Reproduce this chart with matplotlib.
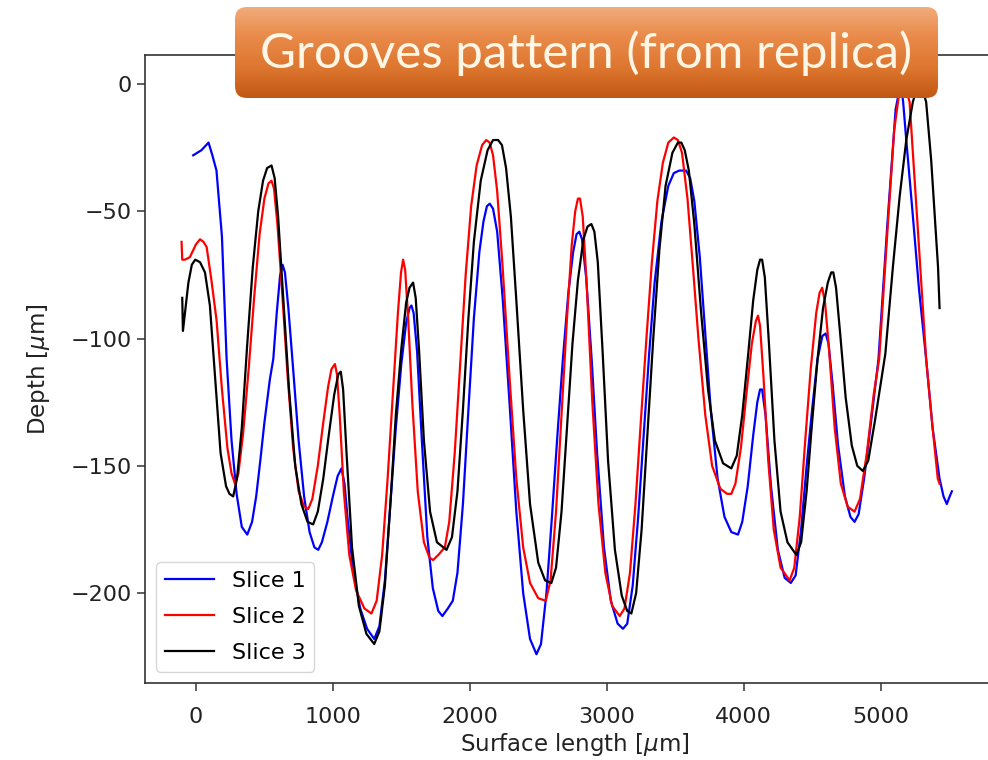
import matplotlib
matplotlib.use("Agg")
import matplotlib.pyplot as plt
from matplotlib.patches import FancyBboxPatch
import numpy as np

# slice profiles (surface length / depth, um)
x1 = [-20, 40, 92, 120, 150, 190, 215, 224, 260, 297, 335, 375, 410, 440, 470, 500,
      540, 565, 590, 615, 633, 650, 675, 710, 750, 790, 830, 865, 893, 920, 960, 1000,
      1035, 1063, 1085, 1110, 1150, 1200, 1250, 1302, 1340, 1380, 1420, 1460, 1500,
      1535, 1560, 1574, 1590, 1615, 1650, 1690, 1730, 1770, 1800, 1840, 1876, 1910,
      1950, 1990, 2030, 2070, 2100, 2125, 2146, 2170, 2200, 2240, 2290, 2340, 2390,
      2440, 2487, 2520, 2560, 2600, 2640, 2680, 2720, 2755, 2780, 2800, 2820, 2850,
      2890, 2930, 2980, 3030, 3080, 3119, 3150, 3190, 3230, 3270, 3310, 3350, 3400,
      3450, 3490, 3530, 3580, 3610, 3640, 3680, 3720, 3760, 3810, 3860, 3910, 3959,
      3990, 4030, 4070, 4100, 4120, 4135, 4160, 4200, 4250, 4300, 4345, 4380, 4420,
      4460, 4500, 4540, 4575, 4599, 4620, 4650, 4690, 4740, 4780, 4810, 4840, 4880,
      4930, 4985, 5050, 5110, 5135, 5150, 5165, 5188, 5230, 5280, 5333, 5380, 5431,
      5460, 5484, 5505, 5521]
y1 = [-28, -26, -23, -28, -34, -60, -95, -108, -140, -161, -174, -177, -172, -162, -148, -133,
      -116, -108, -90, -75, -71, -74, -88, -112, -140, -162, -176, -182, -183, -180, -172, -162,
      -154, -151, -157, -172, -192, -206, -214, -218, -213, -195, -165, -135, -110,
      -94, -88, -87, -90, -105, -140, -178, -198, -207, -209, -206, -203, -192,
      -165, -128, -92, -66, -54, -48, -47, -49, -58, -84, -125, -168, -200,
      -218, -224, -220, -200, -170, -138, -108, -82, -66, -59, -58, -61, -76,
      -108, -145, -182, -203, -212, -214, -212, -197, -170, -138, -106, -78, -54,
      -40, -35, -34, -34, -37, -46, -68, -98, -128, -155, -170, -176, -177,
      -172, -158, -138, -125, -120, -120, -130, -158, -183, -194, -196, -193, -175,
      -150, -128, -108, -99, -98, -102, -118, -142, -162, -170, -172, -169, -155,
      -133, -108, -55, -10, -3, -1, -7, -22, -48, -80, -108, -135, -155,
      -162, -165, -162, -160]

x2 = [-105, -100, -80, -44, 0, 30, 55, 78, 113, 151, 190, 230, 260, 285, 310, 345,
      385, 425, 465, 500, 530, 552, 570, 595, 630, 670, 710, 750, 790, 820, 850, 890,
      930, 965, 990, 1015, 1030, 1050, 1080, 1120, 1170, 1230, 1282, 1320, 1360, 1400,
      1440, 1475, 1498, 1513, 1528, 1550, 1580, 1620, 1665, 1705, 1732, 1770, 1818,
      1850, 1890, 1930, 1970, 2010, 2050, 2090, 2120, 2145, 2170, 2200, 2240, 2290,
      2340, 2390, 2440, 2500, 2555, 2590, 2630, 2670, 2710, 2745, 2770, 2790, 2805,
      2825, 2855, 2895, 2940, 2990, 3040, 3095, 3130, 3170, 3210, 3250, 3290, 3330,
      3370, 3410, 3450, 3490, 3520, 3550, 3590, 3630, 3670, 3720, 3770, 3830, 3880,
      3910, 3940, 3980, 4020, 4060, 4090, 4105, 4120, 4145, 4180, 4220, 4270, 4336,
      4370, 4410, 4450, 4490, 4530, 4555, 4574, 4595, 4625, 4665, 4710, 4760, 4810,
      4850, 4900, 4950, 4990, 5050, 5100, 5135, 5163, 5190, 5212, 5270, 5333, 5380,
      5418, 5431]
y2 = [-62, -69, -69, -68, -63, -61, -62, -64, -77, -93, -120, -143, -153, -157, -153, -137,
      -112, -84, -59, -45, -39, -38, -41, -55, -82, -115, -143, -160, -166, -167, -163, -150,
      -133, -119, -112, -110, -114, -130, -160, -185, -199, -206, -208, -203, -185, -155,
      -120, -90, -74, -69, -73, -92, -125, -160, -180, -186, -187, -185, -182,
      -172, -145, -110, -75, -48, -32, -24, -22, -23, -28, -42, -72, -115,
      -155, -182, -196, -202, -203, -195, -168, -130, -92, -63, -50, -45, -45,
      -52, -80, -125, -165, -192, -205, -209, -206, -192, -165, -132, -100, -70,
      -46, -31, -23, -21, -22, -27, -45, -72, -100, -130, -150, -159, -161,
      -161, -157, -143, -122, -102, -93, -91, -95, -115, -148, -175, -190, -195,
      -190, -170, -140, -112, -90, -82, -80, -86, -105, -135, -157, -166, -168,
      -163, -145, -122, -108, -58, -18, -4, 0, -3, -7, -55, -108, -135,
      -155, -157]

x3 = [-100, -95, -80, -55, -30, -5, 30, 66, 102, 140, 180, 220, 245, 272, 300, 335,
      375, 415, 455, 490, 520, 552, 575, 600, 635, 680, 725, 770, 815, 856, 890, 930,
      970, 1010, 1040, 1058, 1075, 1100, 1140, 1190, 1245, 1302, 1340, 1380, 1420, 1460,
      1500, 1535, 1560, 1586, 1605, 1630, 1665, 1710, 1760, 1830, 1870, 1910, 1950,
      1990, 2030, 2080, 2130, 2170, 2207, 2235, 2265, 2300, 2340, 2390, 2440, 2500,
      2550, 2596, 2630, 2670, 2710, 2750, 2790, 2830, 2860, 2888, 2910, 2935, 2970,
      3010, 3060, 3110, 3150, 3180, 3215, 3255, 3295, 3340, 3385, 3430, 3480, 3520,
      3545, 3570, 3600, 3640, 3690, 3740, 3790, 3850, 3910, 3950, 3990, 4030, 4070,
      4100, 4120, 4135, 4155, 4185, 4225, 4270, 4320, 4385, 4420, 4460, 4500, 4540,
      4580, 4615, 4640, 4655, 4675, 4705, 4745, 4790, 4830, 4871, 4910, 4960, 5000,
      5035, 5090, 5140, 5188, 5236, 5265, 5285, 5310, 5333, 5370, 5400, 5420, 5431]
y3 = [-84, -97, -90, -78, -71, -69, -70, -74, -87, -115, -145, -158, -161, -162, -155, -135,
      -102, -72, -50, -38, -33, -32, -37, -52, -82, -120, -150, -165, -172, -173, -168, -155,
      -138, -122, -114, -113, -120, -145, -182, -205, -216, -220, -215, -197, -165, -130,
      -104, -86, -80, -78, -84, -105, -140, -168, -180, -183, -178, -160, -128,
      -92, -62, -38, -26, -22, -22, -24, -33, -52, -85, -128, -165, -188,
      -195, -196, -190, -168, -135, -102, -77, -61, -56, -55, -58, -70, -105,
      -148, -183, -201, -207, -208, -200, -175, -140, -100, -65, -40, -27, -23,
      -23, -26, -34, -55, -90, -120, -140, -149, -151, -146, -130, -108, -85,
      -73, -69, -69, -76, -102, -140, -168, -180, -185, -180, -160, -133, -108,
      -88, -78, -74, -74, -80, -98, -123, -142, -150, -152, -148, -132, -118,
      -106, -72, -44, -22, -7, -2, 0, -3, -7, -30, -55, -72, -88]

labels = ["Slice 1", "Slice 2", "Slice 3"]
colors = ["#0000ff", "#ff0000", "#000000"]
title = "Grooves pattern (from replica)"

W, H = 988, 760
fig = plt.figure(figsize=(W / 100, H / 100), dpi=100)
ax = fig.add_axes([145 / W, 1 - 683 / H, 860 / W, 628 / H])

for xs, ys, lab, c in zip([x1, x2, x3], [y1, y2, y3], labels, colors):
    ax.plot(xs, ys, color=c, lw=1.6, label=lab)

ax.set_xlim(-372, 5909)
ax.set_ylim(-235.3, 11.4)
ax.set_xticks([0, 1000, 2000, 3000, 4000, 5000])
ax.set_yticks([0, -50, -100, -150, -200])
ax.tick_params(labelsize=16, length=6, width=1.1, colors="#333333", labelcolor="#222222")
ax.tick_params(axis="x", pad=11)
for s in ax.spines.values():
    s.set_linewidth(1.2)
    s.set_color("#333333")
ax.set_xlabel("Surface length [$\\mu$m]", fontsize=16.5, color="#222222", labelpad=3)
ax.set_ylabel("Depth [$\\mu$m]", fontsize=16.5, color="#222222", labelpad=13)
ax.legend(loc="lower left", fontsize=16, handlelength=2.2, labelspacing=0.72)

# orange title banner on top
bx = fig.add_axes([233 / W, 1 - 100 / H, 707 / W, 95 / H])
bx.axis("off")
grad = np.linspace(0, 1, 256).reshape(-1, 1)
cmap = matplotlib.colors.LinearSegmentedColormap.from_list(
    "org", ["#bf5512", "#dd762f", "#e98a4a", "#f3ae7e"])
img = bx.imshow(grad, extent=[0, 707, 0, 95], origin="lower", aspect="auto", cmap=cmap)
box = FancyBboxPatch((2, 2), 703, 91, boxstyle="round,pad=0,rounding_size=12",
                     fc="none", ec="none", transform=bx.transData)
bx.add_patch(box)
img.set_clip_path(box)
bx.set_xlim(0, 707)
bx.set_ylim(0, 95)
bx.text(353, 47, title, ha="center", va="center", fontsize=35.5,
        family="Lato", color="#fff6e6")

fig.savefig("out.png", dpi=100)
